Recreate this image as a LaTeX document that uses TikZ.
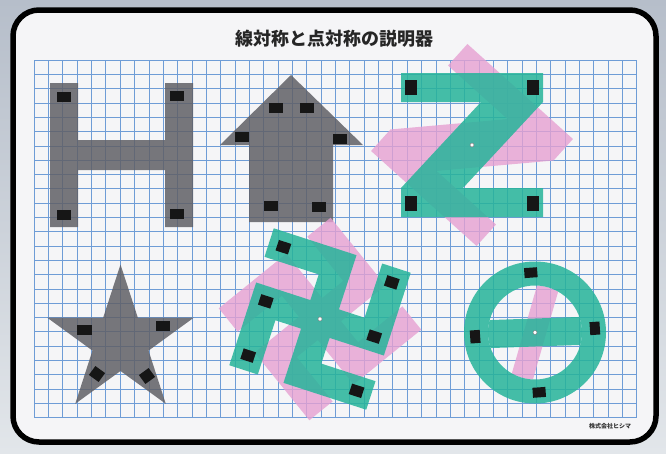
\documentclass[tikz,border=0pt]{standalone}
\usepackage{fontspec}
\newfontfamily\jpfont{Noto Sans CJK JP}
\usetikzlibrary{positioning}

\definecolor{boardbg}{RGB}{245,245,247}
\definecolor{gridblue}{RGB}{110,156,214}
\definecolor{shapegrey}{RGB}{96,96,102}
\definecolor{tealfill}{RGB}{38,180,154}
\definecolor{pinkfill}{RGB}{230,160,210}
\definecolor{padblack}{RGB}{22,22,22}

% outlines around their own centre, screen-like y (down)
\newcommand{\zletter}{(-71,-72) -- (71,-72) -- (71,-43) -- (-9,43) -- (71,43) -- (71,72) -- (-71,72) -- (-71,43) -- (9,-43) -- (-71,-43) -- cycle}
\newcommand{\manji}{(-72,-72) -- (15,-72) -- (15,-15) -- (42,-15) -- (42,-72) -- (72,-72) -- (72,15) -- (15,15) -- (15,42) -- (72,42) -- (72,72) -- (-15,72) -- (-15,15) -- (-42,15) -- (-42,72) -- (-72,72) -- (-72,-15) -- (-15,-15) -- (-15,-42) -- (-72,-42) -- cycle}

\begin{document}
\begin{tikzpicture}[x=1pt, y=-1pt,
  pad/.style={fill=padblack, inner sep=0pt, minimum width=14pt, minimum height=10pt},
  greyshape/.style={fill=shapegrey, fill opacity=0.85},
  tealshape/.style={fill=tealfill, fill opacity=0.85},
  pinkshape/.style={fill=pinkfill, fill opacity=0.8},
  pivot/.style={circle, fill=white, draw=black!55, line width=0.4pt, inner sep=0pt, minimum size=4pt}]
\useasboundingbox (0,0) rectangle (666,453);
\shade[top color={rgb,255:red,182;green,190;blue,202}, bottom color={rgb,255:red,226;green,230;blue,234}] (0,0) rectangle (666,453);
\draw[line width=5.5pt, fill=boardbg, rounded corners=26pt] (13,10) rectangle (656,442);
\node[font=\jpfont\bfseries\fontsize{18}{18}\selectfont, text=black!85] (title) at (334,39) {線対称と点対称の説明器};
\node[font=\jpfont\bfseries\fontsize{6}{6}\selectfont, text=black!80] (maker) at (610,426) {株式会社ヒシマ};

% grid
\foreach \i in {0,...,42} \draw[gridblue, line width=0.6pt] ({34+\i*14.35},60) -- ({34+\i*14.35},417.5);
\foreach \j in {0,...,25} \draw[gridblue, line width=0.6pt] (34,{60+\j*14.3}) -- (636.7,{60+\j*14.3});

% line symmetric: H, arrow, star
\fill[greyshape] (50,83) rectangle (78,227) (165,83) rectangle (193,227) (78,140) rectangle (165,170);
\foreach \p [count=\k] in {(64,97),(177,96),(64,215),(177,214)} \node[pad] (hpad\k) at \p {};
\fill[greyshape] (291,75) -- (363,145) -- (333,145) -- (333,222) -- (249,222) -- (249,145) -- (220,145) -- cycle;
\foreach \p [count=\k] in {(276,108),(307,108),(242,137),(340,139),(271,206),(319,207)} \node[pad] (apad\k) at \p {};
\fill[greyshape, shift={(120.5,341.5)}] (-90:77) -- (-54:29.5) -- (-18:77) -- (18:29.5) -- (54:77) -- (90:29.5) -- (126:77) -- (162:29.5) -- (198:77) -- (234:29.5) -- cycle;
\node[pad, minimum width=15pt] (spad1) at (84,330) {};
\node[pad] (spad2) at (163,326) {};
\node[pad, minimum width=12pt, minimum height=11pt, rotate=-36] (spad3) at (97,374) {};
\node[pad, minimum width=12pt, minimum height=11pt, rotate=36] (spad4) at (147,376) {};

% point symmetric: Z
\fill[pinkshape, shift={(472,145)}, rotate=-42] \zletter;
\fill[tealshape, shift={(472,145)}] \zletter;
\foreach \p [count=\k] in {(411,87),(533,87),(411,203),(533,203)} \node[pad, minimum width=12pt, minimum height=15pt] (zpad\k) at \p {};
\node[pivot] (zpivot) at (472,145) {};

% manji
\fill[pinkshape, shift={(320,319)}, rotate=-51] \manji;
\begin{scope}[shift={(320,319)}, rotate=-18, transform shape]
\fill[tealshape] \manji;
\foreach \p [count=\k] in {(57,0),(-57,0),(57,-57),(-57,-57),(57,57),(-57,57)} \node[pad, minimum width=13pt, minimum height=11pt] (mpad\k) at \p {};
\node[pivot] (mpivot) at (0,0) {};
\end{scope}

% circle with bar
\begin{scope}[shift={(535,332.5)}]
\begin{scope}
\clip (0,0) circle (47);
\fill[pinkshape, rotate=74] (-60,-11) rectangle (60,11);
\fill[tealshape, rotate=2] (-50,-14) rectangle (50,14);
\end{scope}
\fill[tealshape, even odd rule] (0,0) circle (71) (0,0) circle (47);
\foreach \a [count=\k] in {-4,86,176,266} \node[pad, minimum width=10pt, minimum height=13pt, rotate=-\a] (cpad\k) at (\a:60) {};
\node[pivot] (cpivot) at (0,0) {};
\end{scope}
\end{tikzpicture}
\end{document}
